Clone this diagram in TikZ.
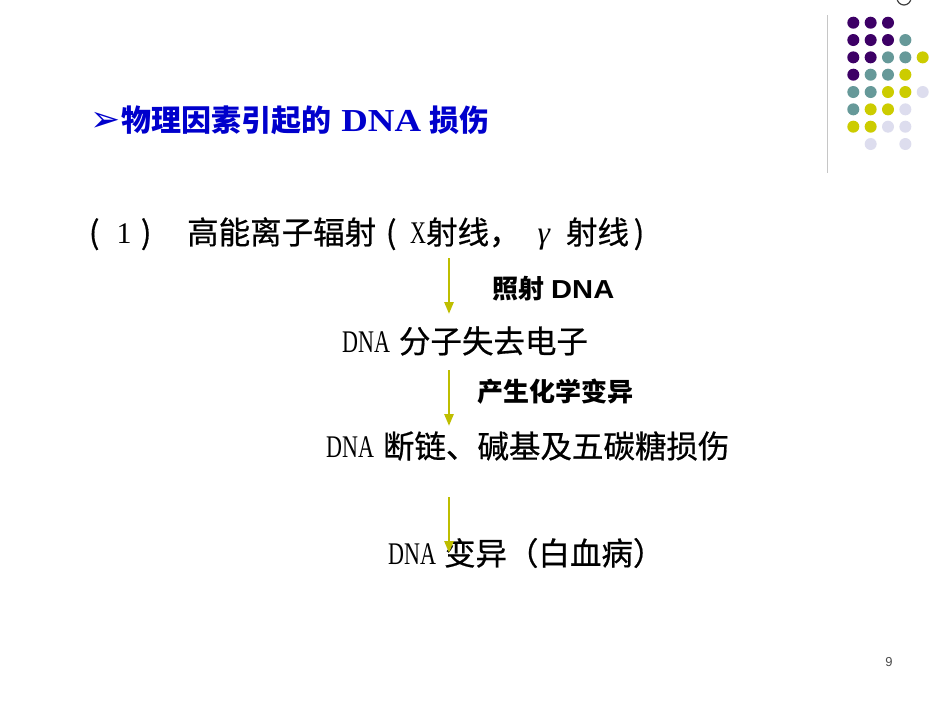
\documentclass[tikz,border=0pt]{standalone}
\usepackage{fontspec}
\setmainfont{Liberation Serif}
\newfontfamily\cjk{Noto Sans CJK SC}
\newfontfamily\cjkm[FakeBold=0.6]{Noto Sans CJK SC}
\newfontfamily\narrow[FakeStretch=0.70]{Liberation Serif}
\newfontfamily\wideserif[FakeStretch=1.15]{Liberation Serif}
\newfontfamily\widesans[FakeStretch=1.12]{Liberation Sans}
\newfontfamily\symb{DejaVu Sans}
\newfontfamily\lsans{Liberation Sans}
\usetikzlibrary{arrows.meta}
\definecolor{dpurple}{RGB}{61,0,102}
\definecolor{dteal}{RGB}{102,153,153}
\definecolor{dyellow}{RGB}{204,204,0}
\definecolor{dlav}{RGB}{221,221,238}
\definecolor{titleblue}{RGB}{0,0,204}
\definecolor{arrowcol}{RGB}{190,190,0}
\tikzset{
  body/.style={anchor=west, inner sep=0pt, font=\fontsize{31.5}{36}\selectfont},
  lab/.style={anchor=west, inner sep=0pt, font=\fontsize{26}{30}\selectfont\bfseries},
  flow/.style={draw=arrowcol, line width=2.6pt, -{Triangle[width=9pt,length=12pt]}}
}
\begin{document}
\begin{tikzpicture}[x=1pt,y=-1pt]
\fill[white] (0,0) rectangle (950,713);
\useasboundingbox (0,0) rectangle (950,713);
% decoration
\draw[gray!45, line width=1pt] (827,15) -- (827,173);
\draw[black!75, line width=1.2pt] (904,-2) circle (7);
\foreach \c/\r/\col in {1/1/dpurple,2/1/dpurple,3/1/dpurple,
  1/2/dpurple,2/2/dpurple,3/2/dpurple,4/2/dteal,
  1/3/dpurple,2/3/dpurple,3/3/dteal,4/3/dteal,5/3/dyellow,
  1/4/dpurple,2/4/dteal,3/4/dteal,4/4/dyellow,
  1/5/dteal,2/5/dteal,3/5/dyellow,4/5/dyellow,5/5/dlav,
  1/6/dteal,2/6/dyellow,3/6/dyellow,4/6/dlav,
  1/7/dyellow,2/7/dyellow,3/7/dlav,4/7/dlav,
  2/8/dlav,4/8/dlav}
  \fill[\col] ({853.3+17.35*(\c-1)},{22.7+17.33*(\r-1)}) circle (6);
% title
\node[anchor=west, inner sep=0pt, text=titleblue, font=\fontsize{30}{36}\selectfont\bfseries] (title) at (90,120)
  {{\symb\fontsize{36}{40}\selectfont ➢}\hspace{1pt}{\cjk 物理因素引起的}\hspace{10pt}{\wideserif\fontsize{32}{36}\selectfont DNA}\hspace{8pt}{\cjk 损伤}};
% body lines
\node[body] (l1) at (79,234) {\makebox[30pt][c]{\cjkm (}\makebox[30pt][c]{\fontsize{30}{36}\selectfont 1}\makebox[14pt][c]{\cjkm )}\hspace{34pt}{\cjkm 高能离子辐射}\makebox[30pt][c]{\cjkm (}\hspace{4pt}{\narrow X}{\cjkm 射线，}\hspace{17pt}{\itshape γ}\hspace{16pt}{\cjkm 射线}\makebox[20pt][c]{\cjkm )}};
\node[body] (l2) at (342,341) {{\narrow DNA}\hspace{9pt}{\cjkm 分子失去电子}};
\node[body] (l3) at (326,446) {{\narrow DNA}\hspace{9pt}{\cjkm 断链、碱基及五碳糖损伤}};
\node[body] (l4) at (388,553) {{\narrow DNA}\hspace{8pt}{\cjkm 变异（白血病）}};
% labels
\node[lab] (m1) at (492,289) {{\cjk 照射}\hspace{7pt}{\widesans DNA}};
\node[lab] (m2) at (477,392) {\cjk 产生化学变异};
% arrows
\coordinate (a1s) at (449,258); \coordinate (a1e) at (449,314);
\coordinate (a2s) at (449,370); \coordinate (a2e) at (449,426);
\coordinate (a3s) at (449,497); \coordinate (a3e) at (449,553);
\draw[flow] (a1s) -- (a1e);
\draw[flow] (a2s) -- (a2e);
\draw[flow] (a3s) -- (a3e);
% page number
\node[anchor=center, inner sep=0pt, text=black!70, font=\lsans\fontsize{13}{15}\selectfont] (pg) at (889,662) {9};
\end{tikzpicture}
\end{document}
